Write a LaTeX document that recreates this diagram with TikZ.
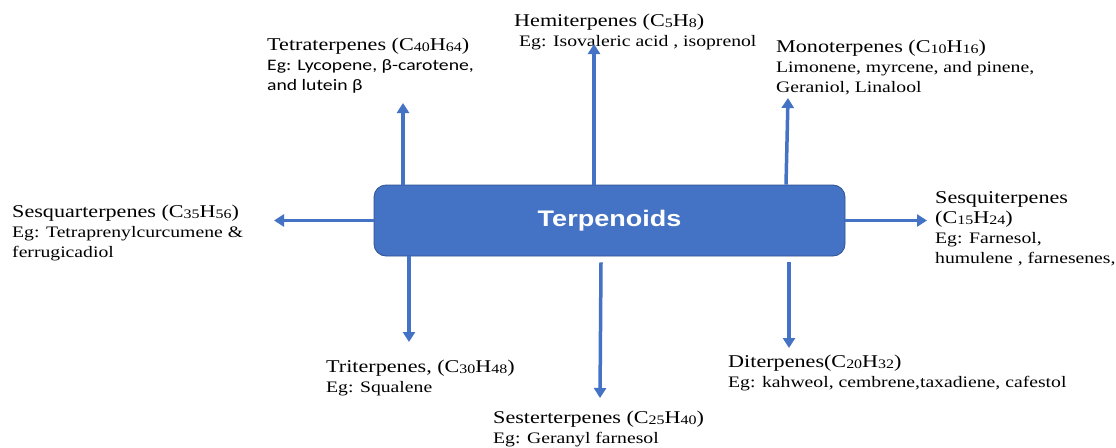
\documentclass[tikz,border=0pt]{standalone}
\usepackage{fontspec}
\setmainfont{Liberation Serif}[FakeStretch=1.23]
\newfontfamily\calibfont{Carlito}[FakeStretch=1.23]
\newfontfamily\boxfont{Liberation Sans}[FakeStretch=1.2]
\usetikzlibrary{arrows.meta}
\definecolor{terpblue}{HTML}{4472C4}
\definecolor{terpedge}{HTML}{2F528F}
\newcommand{\chemsub}[1]{\raisebox{-1pt}{\fontsize{13}{13}\selectfont #1}}
\newcommand{\egfont}{\fontsize{16}{20}\selectfont}

\begin{document}
\begin{tikzpicture}[x = 1pt, y = -1pt,
    lbl/.style = {anchor = north west, inner sep = 0pt, align = left,
      font = \fontsize{18}{20}\selectfont},
    conn/.style = {terpblue, line width = 3.5pt,
      -{Triangle[width = 12pt, length = 10pt]}}]
  \useasboundingbox (0, 0) rectangle (1116, 447);
  \fill[white] (0, 0) rectangle (1116, 447);

  % central box
  \node[draw = terpedge, line width = 0.8pt, fill = terpblue,
    rounded corners = 12pt, minimum width = 471pt, minimum height = 71pt,
    text = white, font = \boxfont\bfseries\fontsize{22.5}{22.5}\selectfont]
    (terp) at (609.5, 220.5) {Terpenoids};

  % classes
  \node[lbl] (tetra) at (267, 38) {Tetraterpenes (C\chemsub{40}H\chemsub{64})\\
    {\calibfont\egfont Eg: Lycopene, β-carotene,}\\
    {\calibfont\egfont and lutein β}};
  \node[lbl] (hemi) at (514, 14) {Hemiterpenes (C\chemsub{5}H\chemsub{8})\\
    {\egfont\hspace*{5pt}Eg: Isovaleric acid , isoprenol}};
  \node[lbl] (mono) at (776, 40) {Monoterpenes (C\chemsub{10}H\chemsub{16})\\
    {\egfont Limonene, myrcene, and pinene,}\\
    {\egfont Geraniol, Linalool}};
  \node[lbl] (sesquar) at (12, 205) {Sesquarterpenes (C\chemsub{35}H\chemsub{56})\\
    {\egfont Eg: Tetraprenylcurcumene \&}\\
    {\egfont ferrugicadiol}};
  \node[lbl] (sesqui) at (935, 191) {Sesquiterpenes\\
    (C\chemsub{15}H\chemsub{24})\\
    {\egfont Eg: Farnesol,}\\
    {\egfont humulene , farnesenes,}};
  \node[lbl] (tri) at (326, 360) {Triterpenes, (C\chemsub{30}H\chemsub{48})\\
    {\egfont Eg: Squalene}};
  \node[lbl] (sester) at (493, 411) {Sesterterpenes (C\chemsub{25}H\chemsub{40})\\
    {\egfont Eg: Geranyl farnesol}};
  \node[lbl] (di) at (728, 355) {Diterpenes(C\chemsub{20}H\chemsub{32})\\
    {\egfont Eg: kahweol, cembrene,taxadiene, cafestol}};

  % arrow tips
  \coordinate (tetraTip) at (403, 103);
  \coordinate (hemiTip) at (594, 44);
  \coordinate (monoTip) at (788, 98);
  \coordinate (sesquarTip) at (274, 220.5);
  \coordinate (sesquiTip) at (927, 220.5);
  \coordinate (triTip) at (409, 342);
  \coordinate (sesterTip) at (600, 398);
  \coordinate (diTip) at (789, 348);

  \draw[conn] (terp.north -| tetraTip) -- (tetraTip);
  \draw[conn] (terp.north -| hemiTip) -- (hemiTip);
  \draw[conn] ([xshift = -2pt]terp.north -| monoTip) -- (monoTip);
  \draw[conn] (terp.west) -- (sesquarTip);
  \draw[conn] (terp.east) -- (sesquiTip);
  \draw[conn] (terp.south -| triTip) -- (triTip);
  \draw[conn] ([xshift = 1pt, yshift = -6pt]terp.south -| sesterTip) -- (sesterTip);
  \draw[conn] ([yshift = -6pt]terp.south -| diTip) -- (diTip);
\end{tikzpicture}
\end{document}
